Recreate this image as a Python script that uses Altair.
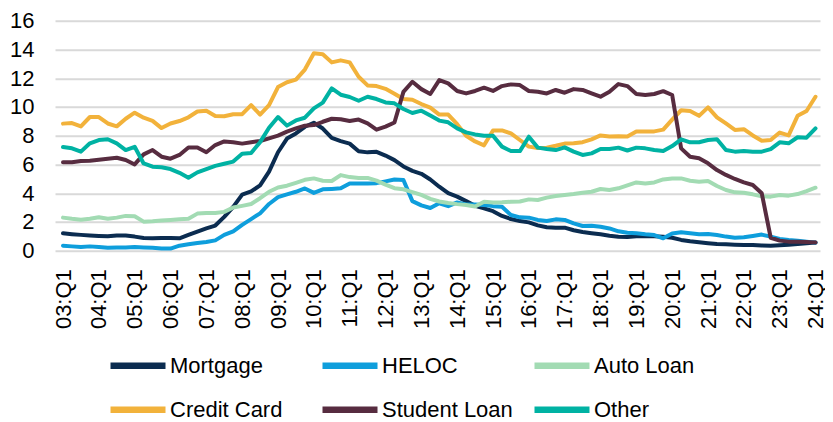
import altair as alt
import pandas as pd

years = [f"{y:02d}" for y in range(3, 25)]
quarters = [f"{y}:Q{q}" for y in years for q in range(1, 5)][:85]
tick_labels = [f"{y}:Q1" for y in years]

series_names = ["Mortgage", "HELOC", "Auto Loan", "Credit Card", "Student Loan", "Other"]
series_colors = ["#0b2c50", "#0e9edc", "#a2dbb3", "#f2b23b", "#572c40", "#00b2a3"]

mortgage = [1.21, 1.15, 1.1, 1.06, 1.03, 1.0, 1.06, 1.05, 0.98, 0.88, 0.87, 0.88, 0.89, 0.86,
            1.1, 1.33, 1.55, 1.75, 2.35, 3.05, 3.9, 4.12, 4.55, 5.5, 6.85, 7.8, 8.16, 8.62, 8.9,
            8.5, 7.85, 7.62, 7.45, 6.92, 6.84, 6.88, 6.62, 6.3, 5.86, 5.55, 5.35, 4.95, 4.45, 4.0,
            3.76, 3.45, 3.12, 2.95, 2.75, 2.42, 2.2, 2.06, 1.97, 1.76, 1.63, 1.6, 1.6, 1.42, 1.3,
            1.22, 1.14, 1.04, 0.97, 0.95, 1.0, 1.02, 1.0, 0.97, 0.9, 0.75, 0.65, 0.58, 0.52, 0.47,
            0.44, 0.42, 0.4, 0.4, 0.36, 0.34, 0.38, 0.42, 0.46, 0.52, 0.57]
heloc = [0.35, 0.3, 0.25, 0.3, 0.25, 0.2, 0.22, 0.22, 0.25, 0.23, 0.2, 0.15, 0.15, 0.35, 0.45,
         0.53, 0.6, 0.72, 1.1, 1.35, 1.8, 2.2, 2.6, 3.25, 3.72, 3.92, 4.1, 4.33, 4.02, 4.27, 4.3,
         4.34, 4.68, 4.68, 4.68, 4.7, 4.82, 4.95, 4.92, 3.45, 3.15, 2.97, 3.3, 3.1, 3.36, 3.22,
         3.22, 3.18, 3.1, 3.05, 2.48, 2.32, 2.3, 2.14, 2.06, 2.18, 2.14, 1.9, 1.72, 1.74, 1.67,
         1.55, 1.35, 1.25, 1.21, 1.14, 1.09, 0.86, 1.2, 1.28, 1.21, 1.14, 1.16, 1.09, 0.98, 0.9,
         0.93, 1.02, 1.12, 0.98, 0.81, 0.74, 0.7, 0.63, 0.56]
auto_loan = [2.3, 2.22, 2.16, 2.22, 2.33, 2.22, 2.3, 2.42, 2.4, 2.02, 2.05, 2.1, 2.14, 2.18, 2.22,
             2.58, 2.62, 2.62, 2.7, 3.0, 3.12, 3.25, 3.65, 4.1, 4.4, 4.52, 4.72, 4.93, 5.03, 4.87,
             4.85, 5.26, 5.12, 5.05, 5.06, 4.87, 4.6, 4.35, 4.27, 4.08, 3.88, 3.6, 3.42, 3.32, 3.24,
             3.18, 3.08, 3.4, 3.36, 3.37, 3.4, 3.42, 3.57, 3.53, 3.69, 3.8, 3.87, 3.94, 4.03, 4.1,
             4.29, 4.22, 4.34, 4.55, 4.75, 4.68, 4.75, 4.96, 5.03, 5.03, 4.87, 4.8, 4.85, 4.5, 4.22,
             4.06, 4.03, 3.92, 3.78, 3.76, 3.87, 3.83, 3.94, 4.15, 4.38]
credit_card = [8.84, 8.88, 8.65, 9.3, 9.3, 8.85, 8.65, 9.18, 9.6, 9.25, 9.03, 8.53, 8.85, 9.02,
               9.28, 9.68, 9.73, 9.37, 9.35, 9.49, 9.5, 10.13, 9.47, 10.13, 11.38, 11.72, 11.9,
               12.6, 13.73, 13.67, 13.1, 13.24, 13.1, 12.1, 11.5, 11.45, 11.26, 10.92, 10.55, 10.5,
               10.2, 9.95, 9.47, 9.47, 8.8, 8.0, 7.6, 7.33, 8.36, 8.37, 8.16, 7.7, 7.24, 7.15, 7.17,
               7.3, 7.45, 7.47, 7.55, 7.75, 8.02, 7.95, 7.97, 7.95, 8.3, 8.3, 8.3, 8.42, 9.12, 9.77,
               9.72, 9.38, 9.97, 9.28, 8.85, 8.4, 8.45, 8.02, 7.65, 7.7, 8.22, 8.02, 9.38, 9.72, 10.71]
student_loan = [6.15, 6.15, 6.24, 6.26, 6.33, 6.4, 6.47, 6.31, 6.0, 6.7, 7.0, 6.54, 6.4, 6.66,
                7.18, 7.18, 6.85, 7.35, 7.6, 7.55, 7.45, 7.55, 7.63, 7.81, 8.0, 8.28, 8.51, 8.7,
                8.74, 8.97, 9.18, 9.14, 9.02, 9.12, 8.86, 8.42, 8.63, 8.92, 11.05, 11.75, 11.24,
                10.9, 11.87, 11.64, 11.11, 10.94, 11.11, 11.34, 11.11, 11.45, 11.57, 11.52, 11.11,
                11.06, 10.94, 11.18, 10.99, 11.24, 11.18, 10.94, 10.71, 11.06, 11.59, 11.45, 10.9,
                10.83, 10.9, 11.1, 10.83, 7.12, 6.54, 6.43, 6.08, 5.61, 5.27, 4.99, 4.75, 4.57, 3.99,
                0.9, 0.7, 0.63, 0.63, 0.6, 0.57]
other = [7.21, 7.12, 6.89, 7.47, 7.7, 7.75, 7.47, 7.0, 7.23, 6.07, 5.84, 5.8, 5.68, 5.42, 5.08,
         5.45, 5.68, 5.9, 6.05, 6.2, 6.75, 6.8, 7.55, 8.55, 9.3, 8.7, 9.06, 9.25, 9.9, 10.3, 11.29,
         10.85, 10.69, 10.43, 10.71, 10.55, 10.31, 10.25, 9.86, 9.58, 9.74, 9.4, 9.05, 8.93, 8.51,
         8.23, 8.09, 8.0, 8.0, 7.24, 6.93, 6.93, 7.93, 7.17, 7.07, 7.0, 7.19, 6.89, 6.66, 6.77,
         7.07, 7.07, 7.17, 6.97, 7.17, 7.12, 7.0, 6.93, 7.28, 7.75, 7.54, 7.54, 7.7, 7.75, 7.0,
         6.89, 6.93, 6.89, 6.89, 7.07, 7.54, 7.47, 7.89, 7.86, 8.51]

series_values = [mortgage, heloc, auto_loan, credit_card, student_loan, other]

rows = []
for k, (name, vals) in enumerate(zip(series_names, series_values)):
    for i, (q, v) in enumerate(zip(quarters, vals)):
        rows.append({"idx": i, "quarter": q, "series": name, "value": v, "order": k})
df = pd.DataFrame(rows)

tick_idx = [quarters.index(t) for t in tick_labels]
label_js = "[" + ",".join(f"'{t}'" for t in tick_labels) + "]"

FONT = "Liberation Sans"

chart = alt.Chart(df).mark_line(strokeWidth=4, strokeJoin="round", strokeCap="round").encode(
    x=alt.X("idx:Q",
            scale=alt.Scale(domain=[-0.892, 84.5], nice=False, zero=False),
            axis=alt.Axis(values=tick_idx, labelExpr=f"{label_js}[round(datum.value/4)]",
                          labelAngle=-90, labelFontSize=22, labelFont=FONT,
                          labelColor="#000000", labelPadding=18, ticks=False, domain=False,
                          grid=False, title=None, labelOverlap=False, labelFlush=False)),
    y=alt.Y("value:Q", scale=alt.Scale(domain=[0, 16], nice=False, zero=True),
            axis=alt.Axis(values=list(range(0, 17, 2)), labelFontSize=22, labelFont=FONT,
                          labelColor="#000000", labelPadding=21, ticks=False, domain=False,
                          grid=True, gridColor="#d9d9d9", gridWidth=2, title=None)),
    color=alt.Color("series:N", sort=series_names,
                    scale=alt.Scale(domain=series_names, range=series_colors),
                    legend=alt.Legend(orient="none", legendX=52, legendY=314, direction="horizontal",
                                      columns=3, title=None, symbolType="stroke", symbolSize=3025,
                                      symbolStrokeWidth=6.5, labelFontSize=22, labelFont=FONT,
                                      labelColor="#000000", gridAlign="all", columnPadding=8,
                                      rowPadding=-17, labelOffset=1)),
    order=alt.Order("order:Q"),
).properties(
    width=765, height=230,
    autosize=alt.AutoSizeParams(type="none"),
    padding={"left": 47, "top": 12.7, "right": 5, "bottom": 175},
).configure_view(stroke=None)

chart.save("out.html", embed_options={"renderer": "svg", "actions": False})
